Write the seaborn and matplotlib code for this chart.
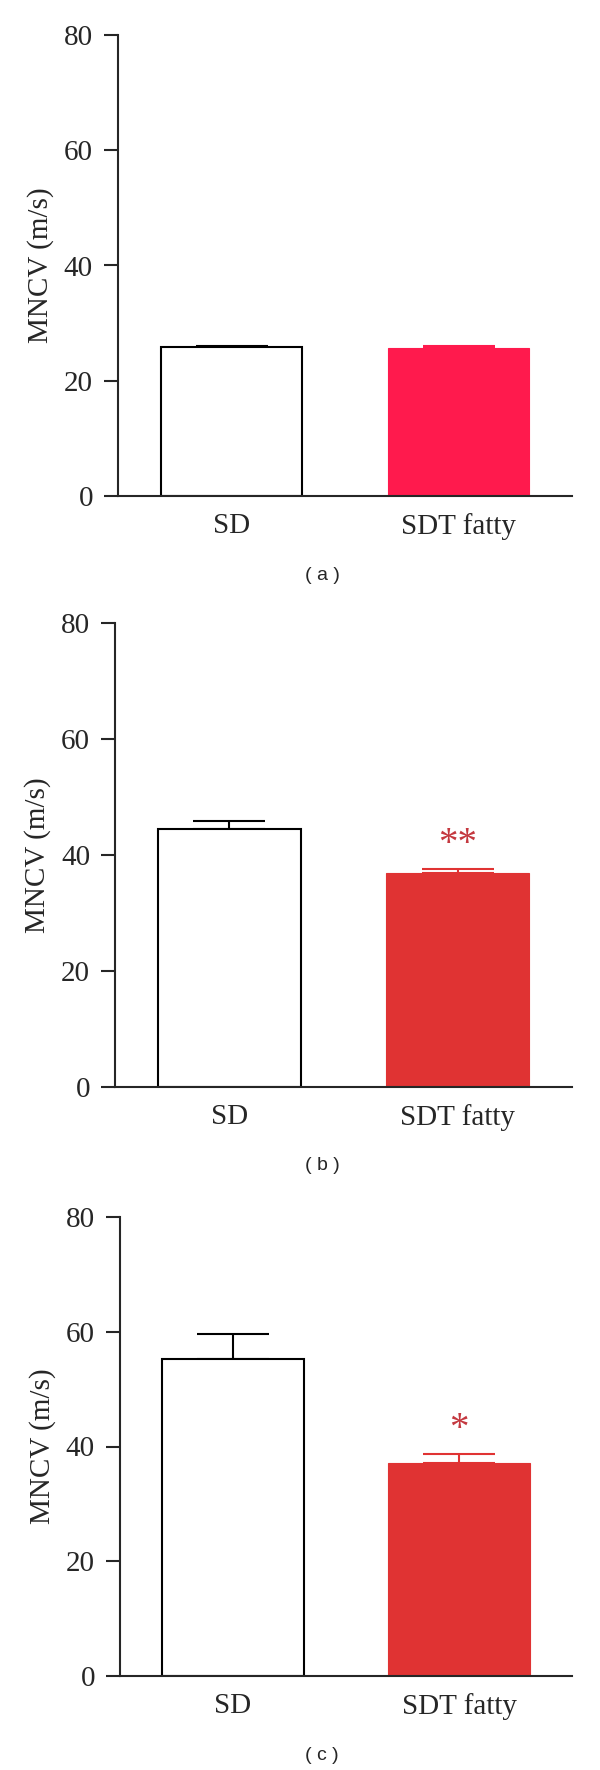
import matplotlib
matplotlib.use('Agg')
import matplotlib.pyplot as plt
import seaborn as sns
import pandas as pd

# Data
groups = ['SD', 'SDT fatty']
panel_tags = ['( a )', '( b )', '( c )']
mean_a = [25.8, 25.6]
sem_a = [0.3, 0.4]
mean_b = [44.4, 36.9]
sem_b = [1.4, 0.7]
mean_c = [55.2, 37.2]
sem_c = [4.4, 1.5]
signif = ['', '**', '*']
yticks = [0, 20, 40, 60, 80]

means = [mean_a, mean_b, mean_c]
sems = [sem_a, sem_b, sem_c]

# fill colours per panel (SD, SDT fatty)
fills = [['white', '#FF1A4D'], ['white', '#E03333'], ['white', '#E03333']]
edges = [['black', '#FF1A4D'], ['black', '#E03333'], ['black', '#E03333']]
star_color = '#C4383F'

sns.set_style('ticks')
plt.rcParams['font.family'] = ['Liberation Serif', 'DejaVu Serif']

W, H = 600, 1770
fig = plt.figure(figsize=(W / 100, H / 100), dpi=100)

# axes boxes in pixels: left, top, right, bottom
boxes = [(118, 35, 572, 496), (115, 623, 572, 1087), (120, 1217, 572, 1676)]
tag_y = [575, 1165, 1755]

for i in range(3):
    l, t, r, b = boxes[i]
    ax = fig.add_axes([l / W, 1 - b / H, (r - l) / W, (b - t) / H])
    df = pd.DataFrame({'group': groups, 'mncv': means[i]})
    sns.barplot(data=df, x='group', y='mncv', hue='group', palette=fills[i],
                saturation=1, width=0.625, errorbar=None, legend=False,
                ax=ax, zorder=2)
    for patch, ec, fc in zip(ax.patches, edges[i], fills[i]):
        patch.set_edgecolor(ec)
        patch.set_linewidth(1.5 if fc == 'white' else 0.8)

    for j in range(2):
        ax.errorbar(j, means[i][j], yerr=[[0], [sems[i][j]]], fmt='none',
                    ecolor=edges[i][j], elinewidth=1.5, capsize=26,
                    capthick=1.5, zorder=1)

    if signif[i]:
        ax.text(1, means[i][1] + sems[i][1] + 1.0, signif[i], ha='center',
                va='bottom', fontsize=28, color=star_color)

    ax.set_xlim(-0.5, 1.5)
    ax.set_ylim(0, 80)
    ax.set_yticks(yticks)
    ax.set_xlabel('')
    ax.set_ylabel('MNCV (m/s)', fontsize=21, labelpad=7)
    ax.tick_params(axis='y', length=10, width=1.5, pad=8, labelsize=21)
    ax.tick_params(axis='x', length=0, pad=12, labelsize=21)
    sns.despine(ax=ax)
    for s in ['left', 'bottom']:
        ax.spines[s].set_linewidth(1.5)

    fig.text(0.537, 1 - tag_y[i] / H, panel_tags[i], ha='center', va='center',
             fontsize=14, family=['Liberation Sans', 'DejaVu Sans'])

fig.savefig('out.png', dpi=100)
